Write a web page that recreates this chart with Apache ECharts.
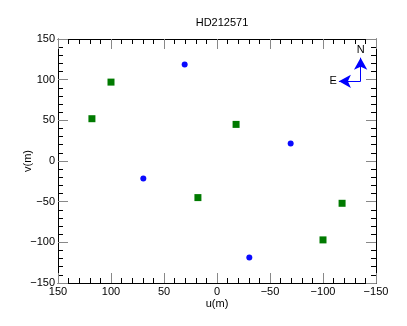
<!DOCTYPE html>
<html>
<head>
<meta charset="utf-8">
<script src="https://cdn.jsdelivr.net/npm/echarts@6/dist/echarts.min.js"></script>
<style>
  html, body { margin: 0; padding: 0; background: #fff; }
  #chart { width: 407px; height: 326px; }
</style>
</head>
<body>
<div id="chart"></div>
<script>
// uv coverage points, u and v in metres
var blueU = [30.5, -30.5, 69.5, -69.5]
var blueV = [118.7, -118.7, -21.5, 21.5]
var greenU = [100, -100, 118, -118, 18, -18]
var greenV = [97, -97, 52, -52, -45, 45]
var axisTicks = [-150, -100, -50, 0, 50, 100, 150]

// compass origin and arrow ends
var compassO = [-135.5, 98]
var compassN = [-135.5, 127]
var compassE = [-115, 98]

var font = 'Liberation Sans, Arial, sans-serif'

function zip(us, vs) {
  var res = []
  us.forEach(function(u, i) {
    res.push([u, vs[i]])
  })
  return res
}

function fmt(v) {
  return String(v).replace('-', '\u2212')
}

function axis(pos, showLabel, name) {
  return {
    type: 'value',
    position: pos,
    min: axisTicks[0],
    max: axisTicks[axisTicks.length - 1],
    interval: 50,
    inverse: pos === 'bottom' || pos === 'top',
    name: name || '',
    nameLocation: 'middle',
    nameGap: pos === 'bottom' ? 15 : 25,
    nameMoveOverlap: false,
    nameTextStyle: { color: '#000', fontFamily: font, fontSize: 11 },
    axisLine: { show: true, onZero: false, lineStyle: { color: '#000', width: 1 } },
    axisTick: { show: true, inside: true, length: 10, lineStyle: { color: '#888' } },
    minorTick: { show: true, splitNumber: 5, length: 5, lineStyle: { color: '#000' } },
    axisLabel: {
      show: showLabel,
      color: '#000',
      fontFamily: font,
      fontSize: 11,
      margin: 3,
      formatter: fmt
    },
    splitLine: { show: false }
  }
}

var chart = echarts.init(document.getElementById('chart'))
chart.setOption({
  animation: false,
  title: {
    text: 'HD212571',
    left: 217,
    top: 12,
    textAlign: 'center',
    textStyle: { color: '#000', fontFamily: font, fontSize: 11, fontWeight: 'normal' }
  },
  grid: { left: 58, right: 31, top: 39, bottom: 43 },
  xAxis: [axis('bottom', true, 'u(m)'), axis('top', false)],
  yAxis: [axis('left', true, 'v(m)'), axis('right', false)],
  series: [
    {
      type: 'scatter',
      data: zip(blueU, blueV),
      symbol: 'circle',
      symbolSize: 6,
      itemStyle: { color: '#0a0aff', opacity: 1 }
    },
    {
      type: 'scatter',
      data: zip(greenU, greenV),
      symbol: 'rect',
      symbolSize: 7,
      itemStyle: { color: '#007a00', opacity: 1 }
    },
    {
      type: 'line',
      data: [],
      markLine: {
        silent: true,
        symbol: ['none', 'arrow'],
        symbolSize: [10, 12],
        lineStyle: { color: '#0000ff', width: 1, type: 'solid' },
        label: {
          show: true,
          position: 'end',
          color: '#000',
          fontFamily: font,
          fontSize: 11,
          distance: 2,
          formatter: function(p) { return p.name }
        },
        data: [
          [{ coord: compassO, name: 'N' }, { coord: compassN }],
          [{ coord: compassO, name: 'E' }, { coord: compassE }]
        ]
      }
    }
  ]
})
</script>
</body>
</html>
